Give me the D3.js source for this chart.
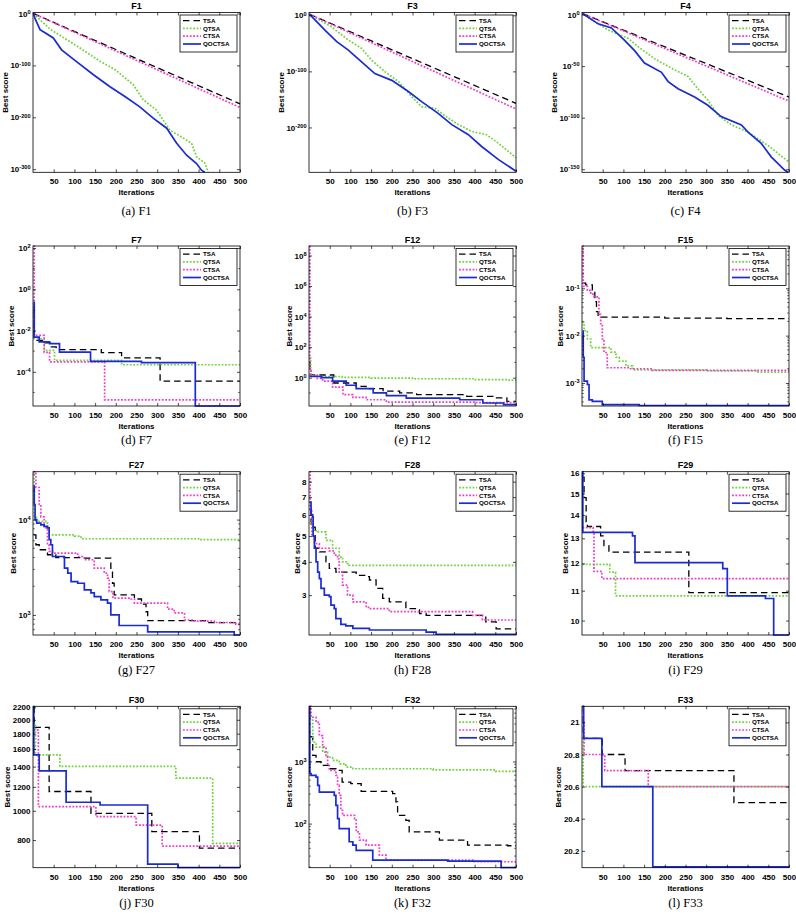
<!DOCTYPE html>
<html>
<head>
<meta charset="utf-8">
<script src="https://cdn.jsdelivr.net/npm/d3@7"></script>
<style>
  body { margin: 0; background: #fff; }
</style>
</head>
<body>
<svg id="chart" width="796" height="915" font-family='"Liberation Sans", Arial, sans-serif'></svg>
<script>
// Convergence curves: [iteration, best score].
const xTicks = [50, 100, 150, 200, 250, 300, 350, 400, 450, 500];
const names = ["TSA", "QTSA", "CTSA", "QOCTSA"];

// F1
const f1Tsa = [[1, 1e0], [500, 1e-174]];
const f1Qtsa = [[1, 1e0], [41, 1e-30], [101, 1e-60], [162, 1e-92], [198, 1e-108], [242, 1e-137], [266, 1e-166], [298, 1e-186], [331, 1e-225], [359, 1e-238], [383, 1e-250], [395, 1e-276], [415, 1e-288], [423, 1e-306]];
const f1Ctsa = [[1, 1e0], [500, 1e-181]];
const f1Qoctsa = [[1, 1e0], [5, 1e-10], [17, 1e-31], [29, 1e-37], [49, 1e-47], [69, 1e-70], [109, 1e-95], [146, 1e-118], [186, 1e-141], [222, 1e-160], [258, 1e-180], [291, 1e-202], [323, 1e-221], [347, 1e-250], [371, 1e-273], [395, 1e-289], [407, 1e-302], [415, 1e-306]];
// F3
const f3Tsa = [[1, 1e2], [500, 1e-157]];
const f3Qtsa = [[1, 1e2], [55, 1e-21], [95, 1e-44], [127, 1e-59], [151, 1e-80], [184, 1e-101], [216, 1e-118], [248, 1e-145], [272, 1e-163], [304, 1e-166], [336, 1e-183], [361, 1e-195], [393, 1e-207], [429, 1e-213], [457, 1e-228], [500, 1e-254]];
const f3Ctsa = [[1, 1e2], [500, 1e-167]];
const f3Qoctsa = [[1, 1e2], [39, 1e-27], [67, 1e-47], [95, 1e-62], [127, 1e-83], [159, 1e-104], [200, 1e-116], [240, 1e-136], [272, 1e-154], [312, 1e-175], [345, 1e-195], [385, 1e-213], [417, 1e-234], [457, 1e-257], [500, 1e-278]];
// F4
const f4Tsa = [[1, 1e1], [500, 1e-80]];
const f4Qtsa = [[1, 1e1], [63, 1e-15], [111, 1e-23], [135, 1e-31], [176, 1e-43], [216, 1e-52], [256, 1e-60], [280, 1e-72], [304, 1e-83], [329, 1e-98], [361, 1e-107], [401, 1e-114], [449, 1e-127], [500, 1e-143]];
const f4Ctsa = [[1, 1e1], [500, 1e-84]];
const f4Qoctsa = [[1, 1e1], [39, 1e-9], [71, 1e-13], [103, 1e-25], [127, 1e-35], [151, 1e-47], [192, 1e-56], [208, 1e-65], [232, 1e-72], [272, 1e-80], [304, 1e-88], [336, 1e-99], [385, 1e-107], [401, 1e-114], [433, 1e-125], [457, 1e-138], [490, 1e-151], [498, 1e-153]];
// F7
const f7Tsa = [[1, 0.08], [3, 3.3e-3], [23, 2.5e-3], [44, 1.6e-3], [56, 1.2e-3], [165, 8.5e-4], [214, 4.7e-4], [307, 3.5e-5]];
const f7Qtsa = [[1, 4e-3], [27, 1.1e-3], [52, 3.6e-4], [214, 2.2e-4]];
const f7Ctsa = [[1, 125], [3, 5.8e-3], [27, 8.8e-4], [40, 3e-4], [173, 4.4e-6]];
const f7Qoctsa = [[1, 0.23], [3, 4.8e-3], [15, 2.8e-3], [40, 2.3e-3], [64, 9e-4], [139, 3.2e-4], [262, 2.8e-4], [392, 2.2e-6]];
// F12
const f12Tsa = [[1, 8], [3, 1.5], [60, 0.45], [114, 0.27], [138, 0.19], [179, 0.13], [219, 0.1], [260, 0.078], [381, 0.06], [446, 0.047], [478, 0.028]];
const f12Qtsa = [[1, 20], [4, 1.3], [30, 1.2], [80, 1.05], [150, 0.95], [250, 0.85], [400, 0.75], [480, 0.7]];
const f12Ctsa = [[1, 4.2e8], [2, 3], [5, 1.5], [20, 0.9], [33, 0.6], [57, 0.24], [82, 0.078], [106, 0.051], [138, 0.036], [187, 0.025], [400, 0.023]];
const f12Qoctsa = [[1, 1.2], [30, 1.0], [57, 0.6], [90, 0.32], [114, 0.19], [155, 0.1], [187, 0.066], [235, 0.046], [364, 0.036], [420, 0.022], [470, 0.017]];
// F15
const f15Tsa = [[1, 0.128], [9, 0.118], [25, 0.092], [31, 0.052], [35, 0.032], [39, 0.0246], [200, 0.0235], [350, 0.0229]];
const f15Qtsa = [[1, 0.019], [5, 0.0128], [13, 0.0085], [21, 0.0056], [70, 0.0045], [82, 0.0035], [90, 0.0029], [106, 0.0023], [122, 0.0019], [300, 0.0018], [420, 0.0017]];
const f15Ctsa = [[1, 0.78], [3, 0.11], [13, 0.09], [21, 0.075], [29, 0.066], [41, 0.028], [45, 0.0178], [49, 0.0085], [53, 0.0044], [61, 0.0021], [114, 0.002], [170, 0.00185]];
const f15Qoctsa = [[1, 0.0125], [3, 0.0035], [5, 0.0011], [13, 9.3e-4], [17, 4.4e-4], [25, 4.1e-4], [49, 3.5e-4], [138, 3.35e-4]];
// F27
const f27Tsa = [[1, 6900], [7, 5450], [15, 4830], [35, 4280], [55, 4000], [120, 3950], [188, 2970], [192, 2150], [196, 1620], [245, 1470], [262, 1300], [273, 1080], [277, 870], [420, 830]];
const f27Qtsa = [[1, 31800], [3, 11000], [8, 9600], [35, 8200], [39, 6900], [100, 6700], [116, 6300], [400, 6160]];
const f27Ctsa = [[1, 31800], [7, 21700], [15, 14400], [19, 10700], [27, 8200], [35, 5450], [39, 4640], [47, 4460], [108, 4100], [124, 3790], [148, 3100], [172, 2750], [180, 2430], [184, 1760], [193, 1500], [237, 1470], [245, 1330], [325, 1150], [341, 1050], [366, 885], [390, 860], [438, 833], [490, 797]];
const f27Qoctsa = [[1, 22400], [3, 14400], [5, 10000], [9, 9200], [19, 8800], [27, 8500], [35, 8200], [39, 6160], [43, 5450], [47, 4100], [76, 3100], [84, 2750], [92, 2240], [108, 2150], [124, 1830], [140, 1700], [148, 1560], [164, 1440], [180, 1330], [188, 1000], [208, 775], [277, 665], [486, 616]];
// F28
const f28Tsa = [[1, 6.3], [5, 5.4], [15, 4.5], [25, 4.36], [41, 4.0], [49, 3.78], [65, 3.66], [114, 3.56], [138, 3.52], [146, 3.42], [162, 3.18], [178, 2.92], [194, 2.83], [234, 2.67], [267, 2.56], [283, 2.52], [427, 2.38], [452, 2.24]];
const f28Qtsa = [[1, 5.6], [9, 5.3], [17, 5.18], [41, 4.82], [57, 4.5], [73, 4.17], [81, 4.0], [93, 3.94], [97, 3.88]];
const f28Ctsa = [[1, 8.72], [3, 6.2], [7, 5.0], [13, 4.68], [25, 4.5], [49, 4.4], [61, 4.24], [69, 4.1], [73, 3.66], [81, 3.27], [93, 3.0], [106, 2.83], [138, 2.7], [146, 2.67], [194, 2.6], [395, 2.52], [419, 2.42]];
const f28Qoctsa = [[1, 6.7], [5, 6.0], [9, 5.9], [10, 5.0], [13, 4.5], [17, 4.0], [21, 3.66], [25, 3.46], [29, 3.18], [37, 3.0], [49, 2.96], [53, 2.75], [61, 2.67], [65, 2.45], [77, 2.33], [89, 2.3], [106, 2.25], [146, 2.22], [283, 2.18], [307, 2.14]];
// F29
const f29Tsa = [[1, 15.8], [5, 14.8], [10, 13.7], [13, 13.5], [45, 13.1], [53, 12.7], [65, 12.44], [258, 10.93]];
const f29Qtsa = [[1, 11.96], [67, 11.67], [81, 10.82]];
const f29Ctsa = [[1, 13.45], [27, 13.2], [29, 11.7], [48, 11.43]];
const f29Qoctsa = [[1, 16.08], [2, 13.25], [122, 13.1], [128, 12.03], [340, 11.8], [351, 10.82], [443, 10.73], [463, 9.55]];
// F30
const f30Tsa = [[1, 2200], [3, 1888], [39, 1158], [140, 981], [287, 853], [402, 752]];
const f30Qtsa = [[1, 1950], [6, 1531], [65, 1402], [345, 1282], [434, 780]];
const f30Ctsa = [[1, 1850], [13, 1032], [152, 956], [249, 897], [312, 764]];
const f30Qoctsa = [[1, 2217], [2, 1531], [15, 1355], [80, 1067], [162, 1045], [277, 666], [350, 648]];
// F32
const f32Tsa = [[1, 2500], [9, 1250], [17, 990], [29, 863], [49, 763], [65, 717], [80, 466], [101, 440], [126, 330], [202, 303], [210, 223], [214, 136], [234, 113], [242, 73.5], [315, 54], [383, 45], [480, 44]];
const f32Qtsa = [[1, 4800], [9, 2040], [17, 1700], [33, 1410], [45, 1170], [57, 1040], [73, 918], [89, 811], [106, 763], [300, 730], [450, 691]];
const f32Ctsa = [[1, 7730], [5, 5150], [17, 4270], [25, 2610], [33, 1700], [41, 1250], [45, 860], [49, 717], [65, 596], [69, 412], [73, 285], [77, 164], [81, 136], [110, 120], [114, 73.5], [122, 54], [138, 45], [170, 31], [186, 25.8], [400, 24.3]];
const f32Qoctsa = [[1, 7730], [2, 640], [5, 596], [17, 560], [21, 412], [25, 322], [61, 285], [65, 197], [69, 120], [73, 83], [97, 51], [106, 45], [114, 37], [154, 25.8], [335, 24.9], [464, 19.5]];
// F33
const f33Tsa = [[1, 21.1], [3, 20.9], [49, 20.8], [104, 20.7], [367, 20.5]];
const f33Qtsa = [[1, 20.9], [3, 20.6]];
const f33Ctsa = [[1, 21.1], [3, 21.0], [5, 20.8], [55, 20.7], [160, 20.6]];
const f33Qoctsa = [[1, 21.1], [4, 20.9], [48, 20.6], [171, 20.1]];

// y-axis tick values
const f1Ticks = [1e-300, 1e-200, 1e-100, 1e0];
const f3Ticks = [1e-200, 1e-100, 1e0];
const f4Ticks = [1e-150, 1e-100, 1e-50, 1e0];
const f7Ticks = [1e-4, 1e-2, 1e0, 1e2];
const f12Ticks = [1e0, 1e2, 1e4, 1e6, 1e8];
const f15Ticks = [1e-3, 1e-2, 1e-1];
const f27Ticks = [1e3, 1e4];
const f28Ticks = [3, 4, 5, 6, 7, 8];
const f29Ticks = [10, 11, 12, 13, 14, 15, 16];
const f30Ticks = [800, 1000, 1200, 1400, 1600, 1800, 2000, 2200];
const f32Ticks = [1e2, 1e3];
const f33Ticks = [20.2, 20.4, 20.6, 20.8, 21];

const panels = [
  { title: "F1", cap: "(a) F1", log: true, pow: true, step: false, domain: [1e-306, 1e2], ticks: f1Ticks, series: [f1Tsa, f1Qtsa, f1Ctsa, f1Qoctsa] },
  { title: "F3", cap: "(b) F3", log: true, pow: true, step: false, domain: [1e-280, 1e5], ticks: f3Ticks, series: [f3Tsa, f3Qtsa, f3Ctsa, f3Qoctsa] },
  { title: "F4", cap: "(c) F4", log: true, pow: true, step: false, domain: [1e-153, 1e2], ticks: f4Ticks, series: [f4Tsa, f4Qtsa, f4Ctsa, f4Qoctsa] },
  { title: "F7", cap: "(d) F7", log: true, pow: true, step: true, minor: "decade", domain: [2.2e-6, 125], ticks: f7Ticks, series: [f7Tsa, f7Qtsa, f7Ctsa, f7Qoctsa] },
  { title: "F12", cap: "(e) F12", log: true, pow: true, step: true, minor: "decade", domain: [0.014, 4.2e8], ticks: f12Ticks, series: [f12Tsa, f12Qtsa, f12Ctsa, f12Qoctsa] },
  { title: "F15", cap: "(f) F15", log: true, pow: true, step: true, minor: "all", domain: [3.27e-4, 0.78], ticks: f15Ticks, series: [f15Tsa, f15Qtsa, f15Ctsa, f15Qoctsa] },
  { title: "F27", cap: "(g) F27", log: true, pow: true, step: true, minor: "all", domain: [616, 31800], ticks: f27Ticks, series: [f27Tsa, f27Qtsa, f27Ctsa, f27Qoctsa] },
  { title: "F28", cap: "(h) F28", log: true, pow: false, step: true, domain: [2.126, 8.72], ticks: f28Ticks, series: [f28Tsa, f28Qtsa, f28Ctsa, f28Qoctsa] },
  { title: "F29", cap: "(i) F29", log: true, pow: false, step: true, domain: [9.55, 16.08], ticks: f29Ticks, series: [f29Tsa, f29Qtsa, f29Ctsa, f29Qoctsa] },
  { title: "F30", cap: "(j) F30", log: true, pow: false, step: true, domain: [648, 2217], ticks: f30Ticks, series: [f30Tsa, f30Qtsa, f30Ctsa, f30Qoctsa] },
  { title: "F32", cap: "(k) F32", log: true, pow: true, step: true, minor: "all", domain: [19.5, 7730], ticks: f32Ticks, series: [f32Tsa, f32Qtsa, f32Ctsa, f32Qoctsa] },
  { title: "F33", cap: "(l) F33", log: false, pow: false, step: true, domain: [20.095, 21.1], ticks: f33Ticks, series: [f33Tsa, f33Qtsa, f33Ctsa, f33Qoctsa] }
];

const styles = [
  { color: "#000000", dash: "6.5,4", width: 1.3 },
  { color: "#70d43c", dash: "1.8,1.6", width: 1.7 },
  { color: "#f03ccc", dash: "1.8,1.6", width: 1.7 },
  { color: "#1a2bd4", dash: null, width: 1.7 }
];

// grid layout
const colLeft = [33, 309, 582], plotW = 207;
const rowTop = [12.5, 246, 471.7, 706.3], rowBot = [172.3, 406, 635, 867.7];
const capY = [215, 444, 674, 907];

const svg = d3.select("#chart");

panels.forEach((p, i) => {
  const r = Math.floor(i / 3), c = i % 3;
  const h = rowBot[r] - rowTop[r];
  const g = svg.append("g").attr("transform", `translate(${colLeft[c]},${rowTop[r]})`);

  const x = d3.scaleLinear().domain([0, 500]).range([0, plotW]);
  const y = (p.log ? d3.scaleLog() : d3.scaleLinear()).domain(p.domain).range([h, 0]);

  const clipId = "clip" + i;
  g.append("clipPath").attr("id", clipId)
    .append("rect").attr("x", -1).attr("y", -1).attr("width", plotW + 2).attr("height", h + 2);

  const line = d3.line()
    .x(d => x(d[0])).y(d => y(d[1]))
    .curve(p.step ? d3.curveStepAfter : d3.curveLinear);

  p.series.forEach((s, k) => {
    let pts = s;
    if (p.step && s[s.length - 1][0] < 500) pts = s.concat([[500, s[s.length - 1][1]]]);
    const st = styles[k];
    g.append("path")
      .attr("clip-path", `url(#${clipId})`)
      .attr("d", line(pts))
      .attr("fill", "none")
      .attr("stroke", st.color)
      .attr("stroke-width", st.width)
      .attr("stroke-dasharray", st.dash);
  });

  // axes with inward ticks on all four sides
  const styleAxis = sel => {
    sel.attr("font-size", 8).attr("font-weight", "bold")
      .attr("font-family", '"Liberation Sans", Arial, sans-serif');
    sel.select(".domain").remove();
    sel.selectAll(".tick line").attr("stroke", "#000").attr("stroke-width", 0.7);
    sel.selectAll(".tick text").attr("fill", "#000");
  };

  g.append("g").attr("transform", `translate(0,${h})`)
    .call(d3.axisBottom(x).tickValues(xTicks).tickSizeInner(-3).tickSizeOuter(0).tickPadding(6.5))
    .call(styleAxis);
  g.append("g")
    .call(d3.axisTop(x).tickValues(xTicks).tickSizeInner(-3).tickSizeOuter(0).tickFormat(""))
    .call(styleAxis);

  const ya = g.append("g")
    .call(d3.axisLeft(y).tickValues(p.ticks).tickSizeInner(-3).tickSizeOuter(0).tickPadding(2.5))
    .call(styleAxis);
  ya.selectAll(".tick text").each(function (d) {
    const t = d3.select(this);
    if (p.pow) {
      t.text("10");
      t.append("tspan").attr("dy", "-0.5em").attr("font-size", 5.6)
        .text(String(Math.round(Math.log10(d))));
    } else {
      t.text(String(d));
    }
  });
  g.append("g").attr("transform", `translate(${plotW},0)`)
    .call(d3.axisRight(y).tickValues(p.ticks).tickSizeInner(-3).tickSizeOuter(0).tickFormat(""))
    .call(styleAxis);

  // minor ticks on log axes
  if (p.minor) {
    let minor = y.ticks();
    if (p.minor === "decade") {
      const lo = Math.ceil(Math.log10(p.domain[0])), hi = Math.floor(Math.log10(p.domain[1]));
      minor = d3.range(lo, hi + 1).map(e => Math.pow(10, e));
    }
    const major = p.ticks.map(v => Math.round(Math.log10(v) * 1000));
    minor = minor.filter(v => !major.includes(Math.round(Math.log10(v) * 1000)));
    minor.forEach(v => {
      const yy = y(v);
      g.append("line").attr("x1", 0).attr("x2", 1.8).attr("y1", yy).attr("y2", yy)
        .attr("stroke", "#000").attr("stroke-width", 0.6);
      g.append("line").attr("x1", plotW - 1.8).attr("x2", plotW).attr("y1", yy).attr("y2", yy)
        .attr("stroke", "#000").attr("stroke-width", 0.6);
    });
  }

  // box
  g.append("rect").attr("width", plotW).attr("height", h)
    .attr("fill", "none").attr("stroke", "#000").attr("stroke-width", 0.8);

  // legend
  const lw = 57, lh = 37;
  const lg = g.append("g").attr("transform", `translate(${plotW - 3 - lw},2.5)`);
  lg.append("rect").attr("width", lw).attr("height", lh)
    .attr("fill", "#fff").attr("stroke", "#000").attr("stroke-width", 0.8);
  names.forEach((n, k) => {
    const yy = 5.6 + k * 7.8, st = styles[k];
    lg.append("line").attr("x1", 3).attr("x2", 21).attr("y1", yy).attr("y2", yy)
      .attr("stroke", st.color).attr("stroke-width", st.width)
      .attr("stroke-dasharray", st.dash);
    lg.append("text").attr("x", 23).attr("y", yy).attr("dy", "0.36em")
      .attr("font-size", 6.2).attr("font-weight", "bold").text(n);
  });

  // titles and labels
  g.append("text").attr("x", plotW / 2).attr("y", -3.5)
    .attr("text-anchor", "middle").attr("font-size", 9).attr("font-weight", "bold")
    .text(p.title);
  g.append("text").attr("x", plotW / 2).attr("y", h + 23)
    .attr("text-anchor", "middle").attr("font-size", 8).attr("font-weight", "bold")
    .text("Iterations");
  const bb = ya.node().getBBox();
  g.append("text")
    .attr("transform", `translate(${bb.x - 2.5},${h / 2}) rotate(-90)`)
    .attr("text-anchor", "middle").attr("font-size", 8).attr("font-weight", "bold")
    .text("Best score");

  svg.append("text")
    .attr("x", colLeft[c] + plotW / 2).attr("y", capY[r])
    .attr("text-anchor", "middle")
    .style("font-family", '"Liberation Serif", "DejaVu Serif", serif')
    .attr("font-size", 12.5)
    .text(p.cap);
});
</script>
</body>
</html>
